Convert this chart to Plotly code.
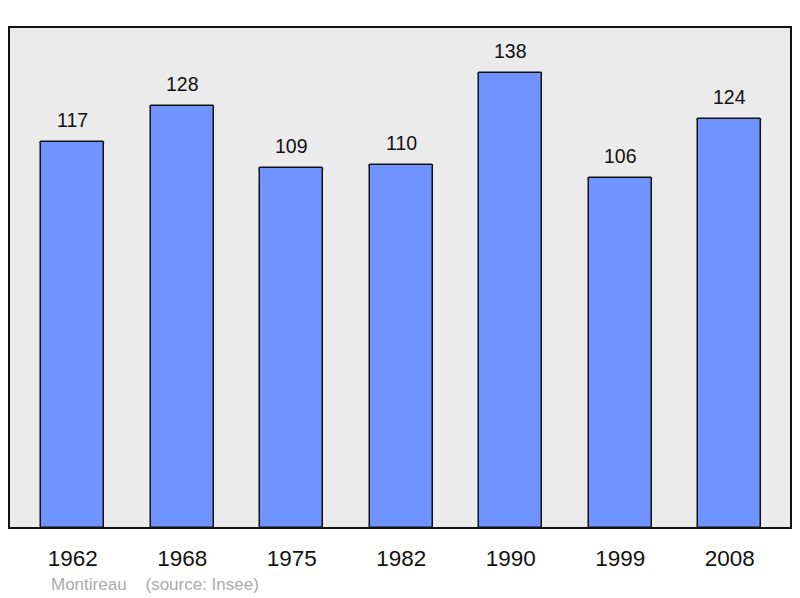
import plotly.graph_objects as go

years = ["1962", "1968", "1975", "1982", "1990", "1999", "2008"]
population = [117, 128, 109, 110, 138, 106, 124]
footer_text = "Montireau    (source: Insee)"

W, H = 800, 598
L, R, T, B = 9, 9, 27, 70
xpos = list(range(len(years)))

fig = go.Figure()
fig.add_trace(go.Bar(
    x=xpos, y=population, width=0.576,
    marker=dict(color="#7094ff", line=dict(color="#111111", width=1.5), cornerradius=2),
    hoverinfo="skip", showlegend=False,
))

for xi, v in zip(xpos, population):
    fig.add_annotation(x=xi, y=v, text=str(v), showarrow=False, yanchor="middle",
                       yshift=22, font=dict(size=19.5, color="#111111", family="Liberation Sans, Arial, sans-serif"))

fig.add_annotation(x=(49 - L) / (W - L - R), y=(528 - 584) / (H - T - B), xref="paper", yref="paper",
                   text=footer_text, showarrow=False, xanchor="left", yanchor="middle",
                   font=dict(size=17, color="#aaaaaa", family="Liberation Sans, Arial, sans-serif"))

fig.add_shape(type="rect", xref="paper", yref="paper", x0=0, y0=0, x1=1, y1=1,
              line=dict(color="#111111", width=2), layer="above")

fig.update_layout(
    width=W, height=H,
    margin=dict(l=L, r=R, t=T, b=B, pad=0),
    paper_bgcolor="white", plot_bgcolor="#ebebeb",
    font=dict(family="Liberation Sans, Arial, sans-serif", color="#111111"),
    xaxis=dict(range=[-0.583, 6.56], tickvals=xpos, ticktext=years, showgrid=False,
               zeroline=False, showline=False, ticks="", tickfont=dict(size=22.5),
               ticklabelstandoff=14, fixedrange=True),
    yaxis=dict(range=[0, 151.8], showgrid=False, zeroline=False, showticklabels=False,
               showline=False, ticks="", fixedrange=True),
    bargap=0,
)

fig.write_html("out.html", config={"displayModeBar": False},
               post_script="document.body.style.margin='0';document.body.style.overflow='hidden';")
